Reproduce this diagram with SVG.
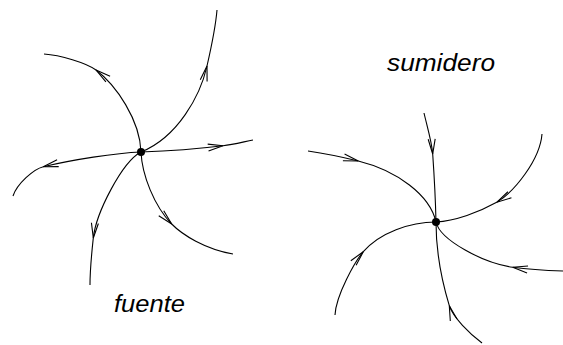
<svg xmlns="http://www.w3.org/2000/svg" width="563" height="345" viewBox="0 0 563 345">
<style>
.c{fill:none;stroke:#000;stroke-width:1.1;marker-mid:url(#v)}
.lbl{font-family:"Liberation Sans",Arial,sans-serif;font-style:italic;font-size:24px;fill:#000}
</style>
<defs>
<marker id="v" markerUnits="userSpaceOnUse" orient="auto" refX="0" refY="0" markerWidth="20" markerHeight="12" viewBox="-17 -6 20 12" overflow="visible">
<path d="M-15,-3.5 L0,0 L-15,3.5" fill="none" stroke="#000" stroke-width="1.1"/>
</marker>
</defs>
<rect width="563" height="345" fill="#fff"/>
<g id="connectors">
<path class="c" d="M141,152 C178,137 200.4,95.25 207,66 C211,48.5 215.5,28 217,10"/>
<path class="c" d="M141,152 C140,120 116,85 96,70 C86.4,62.8 60,55 44,54"/>
<path class="c" d="M141,152 C170,151 200.2,148.6 223,145.8 C232.9,144.6 243,142 253,140"/>
<path class="c" d="M141,152 C115,153 72.4,159.8 43.3,166.7 C33.6,169 17,184 13,196"/>
<path class="c" d="M141,152 C122,162 96,213 93.3,238 C92,250 90,268 90,285"/>
<path class="c" d="M141,152 C142,175 154.2,206 171.7,224 C182.2,234.8 205,249 233,254"/>
<path class="c" d="M424,113 C427,126 431.9,142 432.7,154 C434.1,174 435.5,200 436,222"/>
<path class="c" d="M308,151 C325,153.5 345.7,157.9 358.3,161 C397,170.6 430,195 436,222"/>
<path class="c" d="M542,134 C540,160 514,192 496.7,202.3 C479.3,212.1 455,221 436,222"/>
<path class="c" d="M563,271 C545,270.5 524.6,269 512.7,267.3 C483,263 440,240 436,222"/>
<path class="c" d="M335,315 C336,295 355.4,260.8 363.3,251.7 C379.8,232.7 410,222 436,222"/>
<path class="c" d="M482,343 C470,334 452.8,317.2 449.3,305.7 C440.6,276.9 436,245 436,222"/>
</g>
<g id="fuente">
<circle cx="141" cy="152" r="4"/>
<text class="lbl" x="114" y="312" textLength="71" lengthAdjust="spacingAndGlyphs">fuente</text>
</g>
<g id="sumidero">
<circle cx="436" cy="222" r="4"/>
<text class="lbl" x="387" y="71" textLength="108" lengthAdjust="spacingAndGlyphs">sumidero</text>
</g>
</svg>
